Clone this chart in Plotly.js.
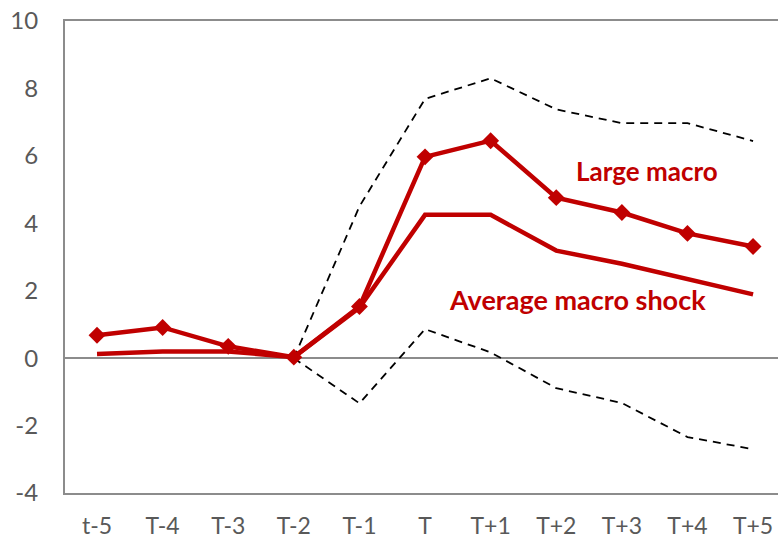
<!DOCTYPE html>
<html>
<head>
<meta charset="utf-8">
<script src="https://cdn.plot.ly/plotly-3.0.1.min.js"></script>
<style>html,body{margin:0;padding:0;background:#fff;}</style>
</head>
<body>
<div id="chart" style="width:778px;height:541px;"></div>
<script>
const categories = ["t-5","T-4","T-3","T-2","T-1","T","T+1","T+2","T+3","T+4","T+5"];
const largeMacro = [0.68, 0.91, 0.35, 0.03, 1.53, 5.97, 6.45, 4.76, 4.32, 3.70, 3.31];
const averageMacro = [0.12, 0.20, 0.20, 0.03, 1.50, 4.25, 4.25, 3.19, 2.80, 2.33, 1.89];
const upperBand = [null, null, null, 0.0, 4.50, 7.69, 8.30, 7.38, 6.97, 6.97, 6.44];
const lowerBand = [null, null, null, 0.0, -1.34, 0.86, 0.17, -0.89, -1.33, -2.34, -2.70];
const yTicks = [-4, -2, 0, 2, 4, 6, 8, 10];
const yTickText = ["-4", "-2", "0", "2", "4", "6", "8", "10"];

const red = "#C00000";
const traces = [
  {x: categories, y: upperBand, mode: "lines", line: {color: "#000", width: 1.8, dash: "8px,6px"}, hoverinfo: "skip"},
  {x: categories, y: lowerBand, mode: "lines", line: {color: "#000", width: 1.8, dash: "8px,6px"}, hoverinfo: "skip"},
  {x: categories, y: averageMacro, mode: "lines", line: {color: red, width: 4.5}},
  {x: categories, y: largeMacro, mode: "lines+markers", line: {color: red, width: 4.5},
   marker: {symbol: "diamond", size: 13, color: red}}
];

const layout = {
  width: 778, height: 541,
  margin: {l: 65, r: 0, t: 21, b: 48},
  showlegend: false,
  paper_bgcolor: "#fff", plot_bgcolor: "#fff",
  font: {family: "Lato, 'Open Sans', sans-serif", color: "#595959", size: 24},
  xaxis: {
    type: "category", range: [-0.488, 10.38],
    showgrid: false, zeroline: false,
    showline: true, linecolor: "#8c8c8c", linewidth: 2, mirror: true,
    ticks: "", ticklabelstandoff: 11,
    tickfont: {size: 23, color: "#595959"}
  },
  yaxis: {
    range: [-4, 10], tickvals: yTicks, ticktext: yTickText,
    showgrid: false,
    zeroline: true, zerolinecolor: "#8c8c8c", zerolinewidth: 2,
    showline: true, linecolor: "#8c8c8c", linewidth: 2,
    ticks: "", ticklabelstandoff: 20,
    tickfont: {size: 24, color: "#595959"}
  },
  annotations: [
    {x: 8.38, y: 5.56, xref: "x", yref: "y", text: "<b>Large macro</b>", showarrow: false,
     font: {size: 26, color: red, family: "Lato, 'Open Sans', sans-serif"}},
    {x: 7.32, y: 1.74, xref: "x", yref: "y", text: "<b>Average macro shock</b>", showarrow: false,
     font: {size: 27, color: red, family: "Lato, 'Open Sans', sans-serif"}}
  ]
};

Plotly.newPlot("chart", traces, layout, {displayModeBar: false, staticPlot: true});
</script>
</body>
</html>
